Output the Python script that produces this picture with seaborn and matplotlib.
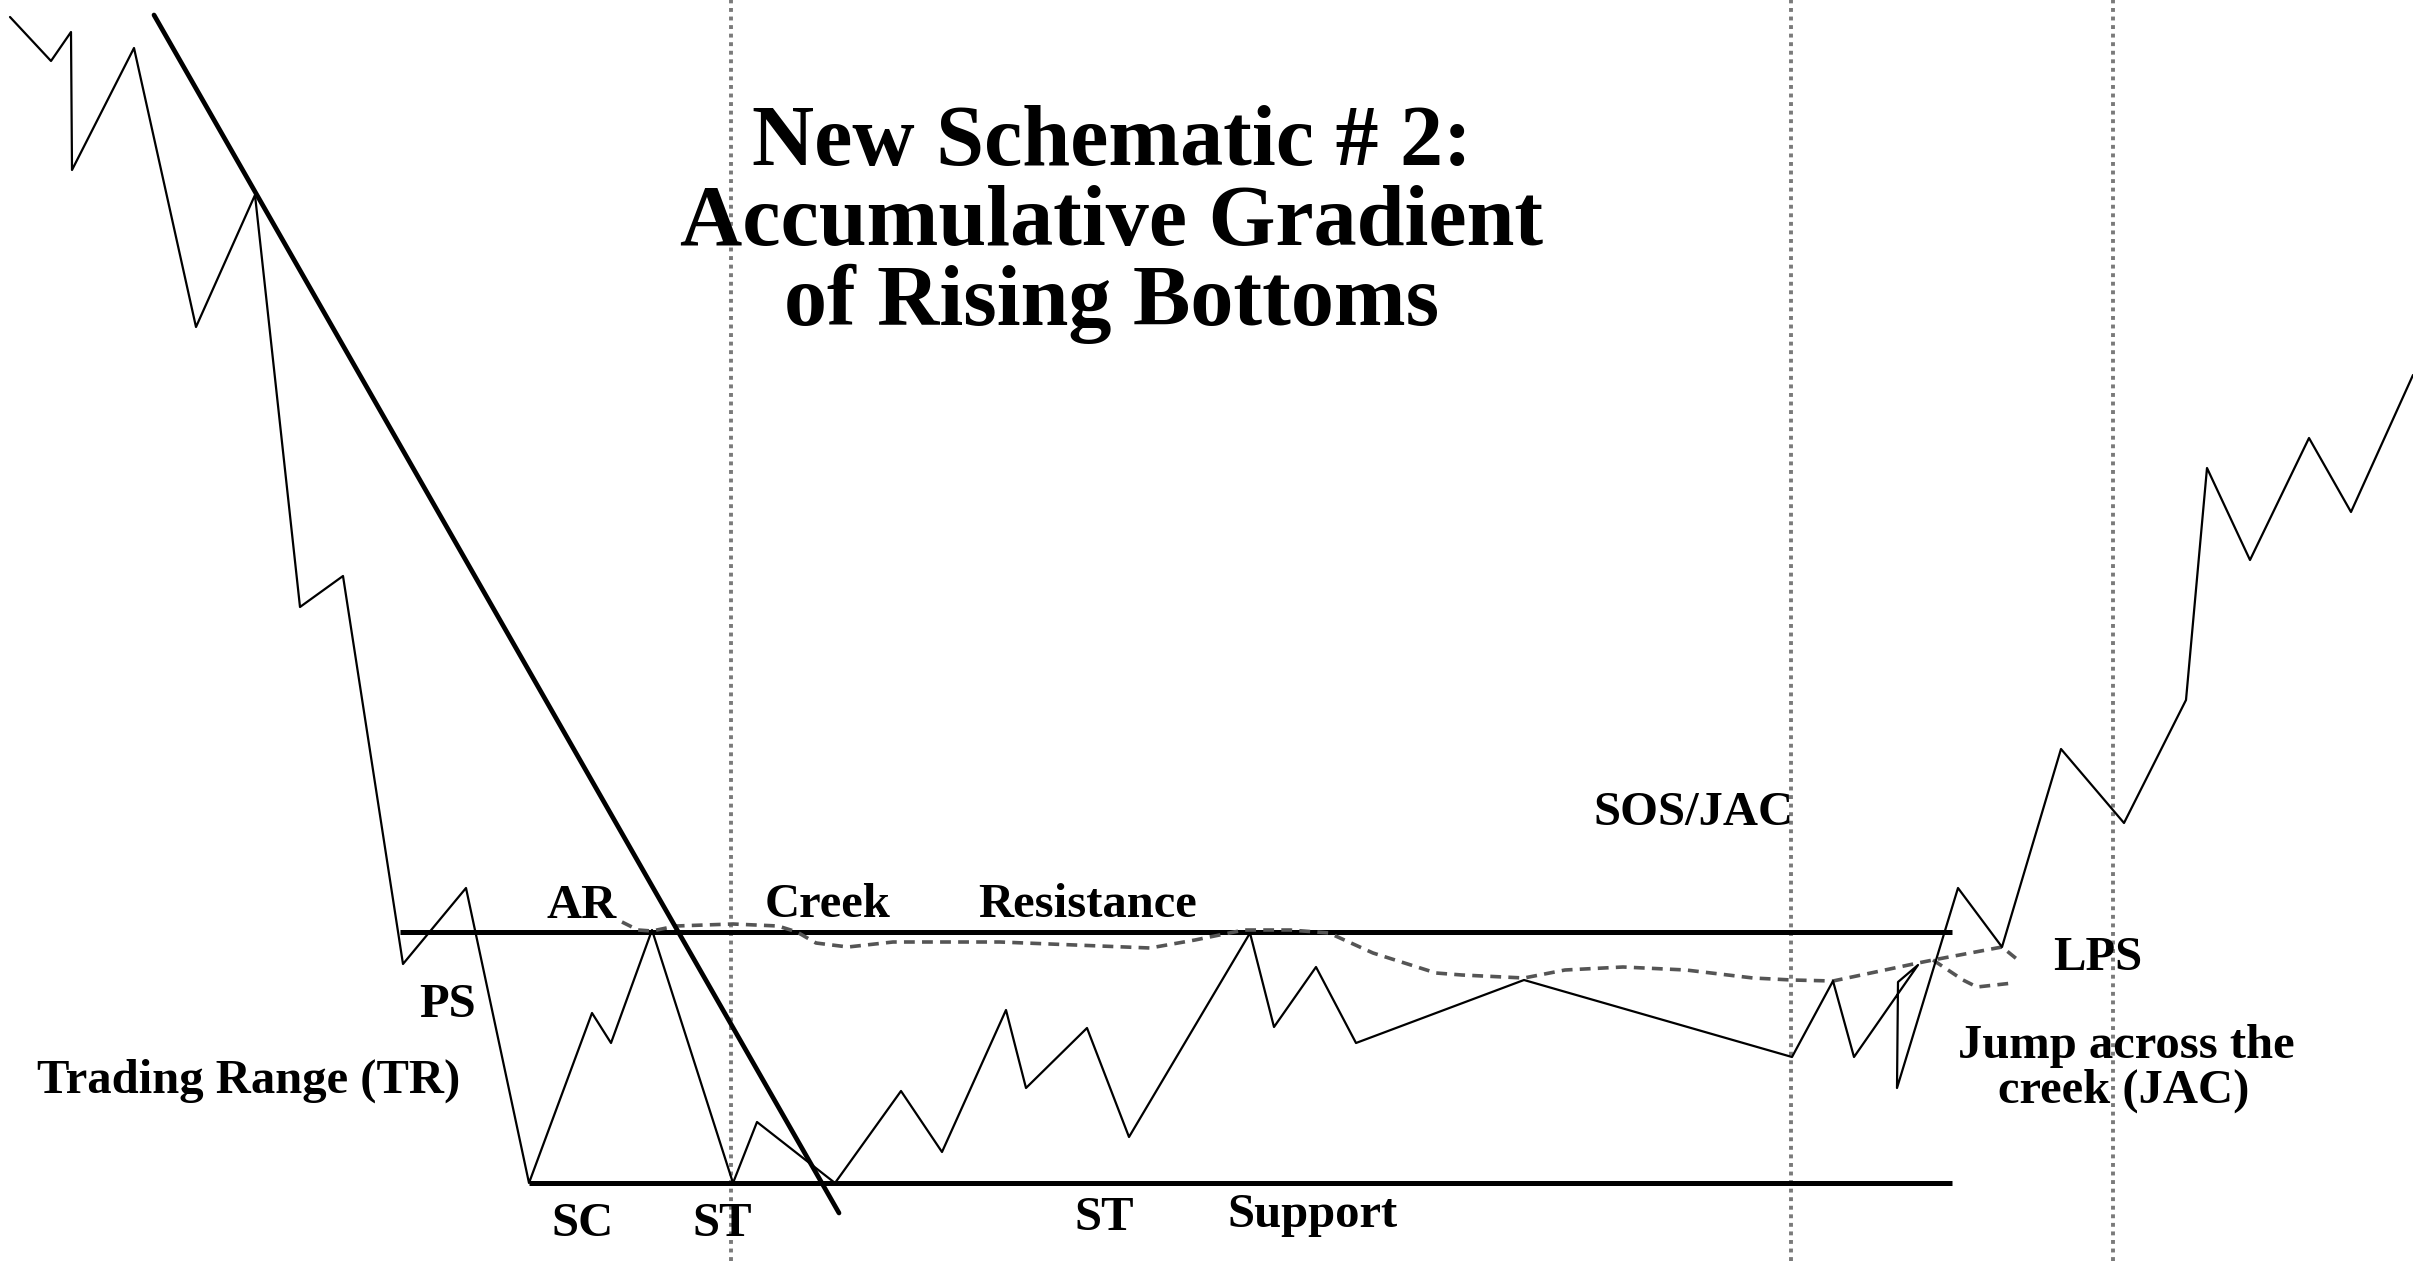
import matplotlib
matplotlib.use("Agg")
import matplotlib.pyplot as plt
import seaborn as sns

# Wyckoff accumulation schematic, coordinates
# (x to the right, y downwards like the picture)
price_x = [10, 51, 71, 72, 134, 196, 255, 300, 343, 403, 466, 529, 592, 611, 652,
           733, 757, 835, 901, 942, 1006, 1026, 1087, 1129, 1250, 1274, 1316, 1356,
           1524, 1792, 1833, 1854, 1918, 1898, 1897, 1958, 2002, 2061, 2124, 2186,
           2207, 2250, 2309, 2351, 2413]
price_y = [17, 61, 32, 170, 48, 327, 195, 607, 576, 964, 888, 1183, 1013, 1043, 930,
           1183, 1122, 1183, 1091, 1152, 1010, 1088, 1028, 1137, 933, 1027, 967, 1043,
           980, 1057, 981, 1057, 965, 982, 1088, 888, 947, 749, 823, 700,
           468, 560, 438, 512, 375]

trend_x = [154, 839]
trend_y = [15, 1213]

resistance_level = 932
resistance_span = [400, 1952]
support_level = 1183
support_span = [529, 1952]

creek_x = [622, 638, 652, 676, 733, 778, 797, 816, 848, 893, 1000, 1150, 1195, 1244,
           1290, 1329, 1373, 1436, 1462, 1524, 1565, 1623, 1686, 1753, 1792, 1833,
           1918, 1933, 2002, 2018]
creek_y = [922, 930, 931, 926, 924, 926, 932, 943, 947, 942, 942, 948, 940, 930,
           930, 933, 953, 973, 975, 978, 970, 967, 970, 978, 980, 981,
           963, 960, 947, 960]
creek_branch_x = [1933, 1963, 1977, 2013]
creek_branch_y = [960, 980, 987, 983]

event_x = [731, 1791, 2113]

sns.set_theme(style="white")
plt.rcParams["font.family"] = ["Liberation Serif", "DejaVu Serif"]

fig = plt.figure(figsize=(24.13, 12.61), dpi=100)
ax = fig.add_axes([0, 0, 1, 1])

for x in event_x:
    ax.axvline(x, color="#7a7a7a", lw=2.8, linestyle=(0, (1, 1.2)), zorder=1)

ax.hlines([resistance_level], resistance_span[0], resistance_span[1], color="black", lw=3.6, zorder=2)
ax.hlines([support_level], support_span[0], support_span[1], color="black", lw=3.6, zorder=2)

sns.lineplot(x=creek_x, y=creek_y, sort=False, estimator=None, ax=ax,
             color="#555555", lw=2.6, linestyle=(0, (3, 2)), zorder=3)
sns.lineplot(x=creek_branch_x, y=creek_branch_y, sort=False, estimator=None, ax=ax,
             color="#555555", lw=2.6, linestyle=(0, (3, 2)), zorder=3)

sns.lineplot(x=trend_x, y=trend_y, sort=False, estimator=None, ax=ax,
             color="black", lw=3.4, zorder=4)
sns.lineplot(x=price_x, y=price_y, sort=False, estimator=None, ax=ax,
             color="black", lw=1.6, zorder=5)

# title block
title_kw = dict(ha="center", va="baseline", fontsize=62, fontweight="bold", color="black")
ax.text(1112, 165, "New Schematic # 2:", **title_kw)
ax.text(1112, 245, "Accumulative Gradient", **title_kw)
ax.text(1112, 325, "of Rising Bottoms", **title_kw)

# event labels
lab = dict(ha="center", va="baseline", fontsize=35, fontweight="bold", color="black")
ax.text(582, 918, "AR", **lab)
ax.text(828, 917, "Creek", **lab)
ax.text(1088, 917, "Resistance", **lab)
ax.text(448, 1017, "PS", **lab)
ax.text(249, 1093, "Trading Range (TR)", **lab)
ax.text(583, 1236, "SC", **lab)
ax.text(722, 1236, "ST", **lab)
ax.text(1104, 1230, "ST", **lab)
ax.text(1312, 1227, "Support", **lab)
ax.text(1693, 825, "SOS/JAC", **lab)
ax.text(2098, 970, "LPS", **lab)
ax.text(2126, 1058, "Jump across the", **lab)
ax.text(2124, 1103, "creek (JAC)", **lab)

ax.set_xlim(0, 2413)
ax.set_ylim(1261, 0)
ax.axis("off")

fig.savefig("out.png", dpi=100, facecolor="white")
